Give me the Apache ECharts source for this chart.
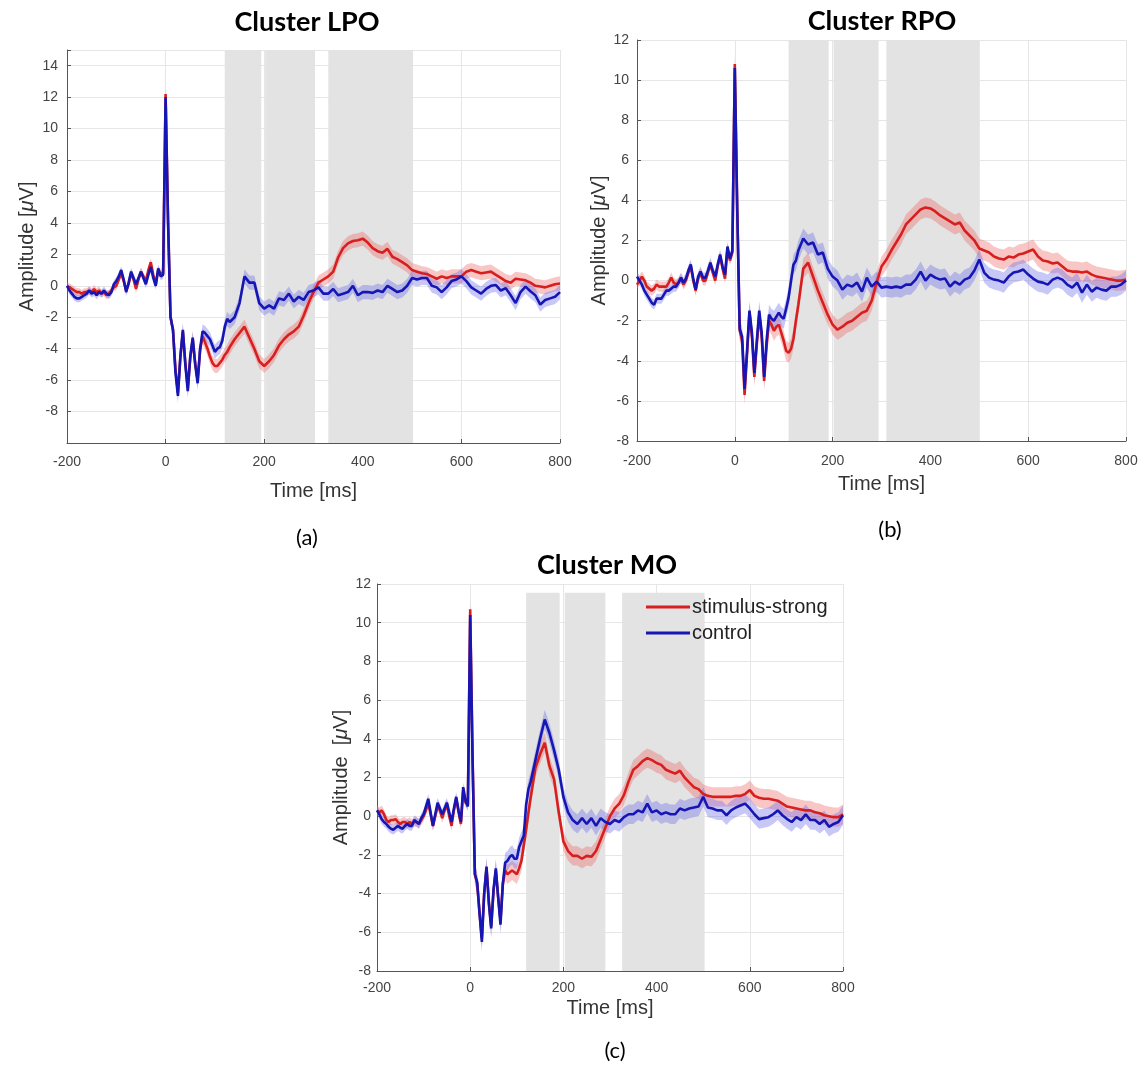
<!DOCTYPE html>
<html><head><meta charset="utf-8">
<script src="https://cdn.jsdelivr.net/npm/echarts/dist/echarts.min.js"></script>
<style>html,body{margin:0;padding:0;background:#fff}#c{width:1144px;height:1065px}</style>
</head><body><div id="c"></div>
<script>
// time samples (ms)
const T = [
-200,-195,-190,-185,-180,-175,-170,-165,-160,-155,
-150,-145,-140,-135,-130,-125,-120,-115,-110,-105,
-100,-95,-90,-85,-80,-75,-70,-65,-60,-55,
-50,-45,-40,-35,-30,-25,-20,-15,-10,-5,
0,5,10,15,20,25,30,35,40,45,
50,55,60,65,70,75,80,85,90,95,
100,105,110,115,120,125,130,
140,150,160,170,180,190,200,210,220,230,
240,250,260,270,280,290,300,310,320,330,
340,350,360,370,380,390,400,410,420,430,
440,450,460,470,480,490,500,510,520,530,
540,550,560,570,580,590,600,610,620,630,
640,650,660,670,680,690,700,710,720,730,
740,750,760,770,780,790,800];

// Cluster LPO
const lpoControl = [
0.0,-0.3,-0.5,-0.7,-0.8,-0.8,-0.7,-0.6,-0.5,-0.3,
-0.5,-0.4,-0.6,-0.4,-0.5,-0.3,-0.5,-0.6,-0.4,0.1,
0.3,0.6,1.0,0.4,-0.4,0.2,0.9,0.5,0.1,0.5,
0.9,0.5,0.1,0.7,1.2,0.5,0.0,1.1,0.6,0.7,
12.0,4.0,-2.0,-2.8,-5.5,-7.0,-4.5,-2.8,-5.0,-6.7,
-4.5,-3.3,-5.0,-6.2,-4.0,-2.9,-3.0,-3.2,-3.4,-3.8,
-4.2,-4.0,-3.9,-3.5,-2.6,-2.1,-2.3,
-2.0,-1.1,0.6,0.2,0.2,-1.1,-1.45,-1.25,-1.45,-0.8,
-0.9,-0.5,-1.0,-0.7,-0.9,-0.4,-0.3,-0.1,-0.5,-0.5,
-0.2,-0.6,-0.5,-0.4,0.0,-0.6,-0.4,-0.4,-0.45,-0.3,
-0.4,0.0,-0.2,-0.4,-0.3,0.0,0.5,0.4,0.5,0.5,
0.0,-0.1,-0.4,-0.1,0.3,0.4,0.6,0.3,-0.1,-0.3,
-0.5,-0.2,0.0,0.05,-0.3,-0.15,-0.6,-1.1,-0.4,-0.05,
-0.35,-0.6,-1.2,-0.9,-0.8,-0.7,-0.4];
const lpoStrong = [
0.0,-0.1,-0.2,-0.3,-0.4,-0.4,-0.5,-0.4,-0.4,-0.3,
-0.4,-0.2,-0.4,-0.3,-0.5,-0.4,-0.6,-0.5,-0.3,-0.1,
0.0,0.4,0.8,0.3,-0.3,0.1,0.8,0.4,-0.2,0.4,
0.9,0.6,0.3,1.0,1.5,0.7,0.1,1.0,0.8,0.8,
12.2,4.2,-2.0,-2.8,-5.3,-6.8,-4.5,-2.9,-4.9,-6.5,
-4.6,-3.4,-4.9,-6.0,-4.1,-3.2,-3.6,-4.0,-4.5,-4.9,
-5.1,-5.1,-4.9,-4.7,-4.4,-4.2,-3.9,
-3.4,-3.0,-2.6,-3.3,-4.0,-4.8,-5.1,-4.8,-4.4,-3.8,
-3.4,-3.1,-2.9,-2.6,-1.9,-1.1,-0.4,0.2,0.4,0.6,
0.9,1.8,2.4,2.7,2.85,2.9,3.0,2.75,2.4,2.2,
2.1,2.35,1.85,1.7,1.5,1.3,1.0,0.9,0.8,0.75,
0.6,0.45,0.6,0.5,0.6,0.6,0.6,0.9,1.0,0.9,
0.8,0.85,0.9,0.7,0.5,0.3,0.2,0.45,0.4,0.35,
0.2,0.0,-0.05,-0.1,0.0,0.1,0.15];

// Cluster RPO
const rpoControl = [
0.2,0.0,-0.2,-0.5,-0.7,-0.9,-1.1,-1.2,-0.9,-0.9,
-0.9,-0.7,-0.5,-0.5,-0.4,-0.3,-0.3,-0.1,0.15,-0.1,
0.1,0.5,0.8,0.1,-0.45,0.2,0.45,0.15,0.15,0.5,
0.9,0.5,0.2,0.8,1.3,0.7,0.3,1.7,1.1,1.5,
10.6,3.5,-2.4,-2.8,-5.4,-3.5,-1.5,-2.6,-4.6,-3.0,
-1.5,-2.6,-4.8,-3.0,-1.7,-1.9,-2.0,-1.8,-1.6,-1.8,
-1.9,-1.4,-0.85,0.0,0.8,1.0,1.5,
2.1,1.8,1.9,1.3,1.4,0.6,0.2,0.0,-0.45,-0.2,
-0.3,-0.1,-0.55,0.15,-0.3,-0.05,-0.35,-0.3,-0.35,-0.3,
-0.35,-0.2,-0.2,0.05,0.45,0.0,0.3,0.15,0.05,0.1,
-0.3,-0.05,-0.2,0.05,0.15,0.5,1.05,0.4,0.15,0.05,
0.0,-0.1,0.2,0.4,0.45,0.55,0.3,0.1,-0.05,-0.1,
-0.2,0.05,0.15,0.05,-0.2,-0.35,-0.1,-0.6,-0.2,-0.55,
-0.35,-0.45,-0.5,-0.3,-0.3,-0.2,0.0];
const rpoStrong = [
-0.2,0.0,0.2,0.0,-0.3,-0.4,-0.5,-0.4,-0.2,-0.3,
-0.3,-0.3,-0.3,-0.1,0.15,-0.1,-0.2,-0.1,0.1,-0.2,
0.0,0.4,0.7,0.0,-0.5,0.1,0.4,0.0,0.0,0.4,
0.8,0.4,0.0,0.7,1.2,0.6,0.1,1.6,1.0,1.4,
10.8,3.6,-2.5,-3.0,-5.7,-3.7,-1.6,-2.8,-4.8,-3.2,
-1.7,-2.8,-5.0,-3.3,-2.0,-2.2,-2.5,-2.3,-2.2,-2.6,
-3.0,-3.5,-3.6,-3.4,-2.9,-2.0,-1.2,
0.6,0.9,0.2,-0.5,-1.1,-1.7,-2.2,-2.45,-2.3,-2.1,
-2.0,-1.8,-1.6,-1.5,-1.0,-0.1,0.7,1.05,1.5,1.9,
2.3,2.8,3.05,3.3,3.55,3.65,3.6,3.45,3.25,3.1,
2.95,2.8,2.9,2.5,2.25,2.0,1.6,1.5,1.4,1.2,
1.1,1.05,1.2,1.15,1.3,1.35,1.45,1.55,1.2,1.0,
0.95,0.85,0.9,0.7,0.5,0.45,0.45,0.4,0.45,0.3,
0.2,0.15,0.1,0.05,0.0,0.0,0.05];

// Cluster MO
const moControl = [
0.3,0.1,-0.15,-0.3,-0.4,-0.55,-0.65,-0.7,-0.6,-0.5,
-0.6,-0.65,-0.5,-0.4,-0.5,-0.5,-0.2,-0.3,-0.4,-0.1,
0.1,0.5,0.9,0.2,-0.5,0.1,0.7,0.4,0.1,0.4,
0.7,0.2,-0.3,0.4,1.0,0.3,-0.3,1.5,0.8,0.5,
10.4,3.0,-3.0,-3.4,-5.0,-6.5,-4.0,-2.6,-4.5,-5.8,
-3.8,-2.7,-4.2,-5.6,-3.5,-2.4,-2.3,-2.1,-2.0,-2.2,
-2.2,-1.6,-1.3,-1.0,0.6,1.4,1.8,
2.9,4.0,5.0,4.3,3.4,2.4,1.0,0.2,-0.2,-0.4,
-0.1,-0.4,-0.1,-0.5,-0.1,-0.3,-0.4,-0.2,-0.3,-0.05,
0.1,0.1,0.3,0.2,0.65,0.2,0.3,0.1,0.2,0.1,
0.1,0.4,0.3,0.4,0.45,0.5,1.0,0.45,0.4,0.3,
0.3,0.05,0.3,0.45,0.55,0.65,0.4,0.1,-0.15,-0.1,
-0.05,0.1,0.3,0.05,-0.15,-0.3,-0.05,-0.2,0.1,-0.2,
-0.2,-0.4,-0.2,-0.55,-0.4,-0.3,0.05];
const moStrong = [
0.3,0.2,0.3,0.1,-0.2,-0.3,-0.2,-0.2,-0.15,-0.3,
-0.4,-0.3,-0.3,-0.4,-0.3,-0.4,-0.3,-0.3,-0.4,-0.2,
0.0,0.3,0.7,0.1,-0.5,0.0,0.5,0.3,-0.1,0.3,
0.6,0.0,-0.5,0.3,0.9,0.2,-0.4,1.3,0.7,0.6,
10.7,3.2,-3.0,-3.5,-5.0,-6.3,-4.0,-2.7,-4.4,-5.7,
-3.9,-2.8,-4.2,-5.4,-3.5,-2.8,-3.0,-2.9,-2.8,-2.9,
-3.0,-2.7,-2.3,-1.5,-0.7,0.2,1.0,
2.5,3.2,3.8,2.6,1.9,0.2,-1.3,-1.8,-2.05,-2.05,
-2.2,-2.05,-2.1,-1.8,-1.2,-0.6,0.0,0.4,0.65,1.1,
1.8,2.4,2.6,2.85,3.0,2.9,2.75,2.65,2.4,2.3,
2.2,2.35,2.0,1.75,1.5,1.4,1.15,1.05,1.0,1.0,
1.0,1.0,1.0,1.05,1.05,1.15,1.35,1.05,0.95,0.9,
0.9,0.85,0.8,0.65,0.5,0.45,0.4,0.35,0.3,0.3,
0.2,0.15,0.05,0.0,-0.05,-0.05,0.1];

// standard error half-widths [pre-stimulus, post-stimulus]
const semLpo = [0.25, 0.45];
const semRpo = [0.25, 0.5];
const semMo  = [0.25, 0.5];

// significant time windows (ms)
const shadeLpo = [[120,194],[202,303],[330,502]];
const shadeRpo = [[110,192],[202,294],[310,501]];
const shadeMo  = [[120,192],[203,290],[326,503]];

const xTicks = [-200, 800, 200];          // min, max, step
const yLpo = [-10, 15, 2];
const yRpo = [-8, 12, 2];
const yMo  = [-8, 12, 2];

const titles = ['Cluster LPO', 'Cluster RPO', 'Cluster MO'];
const captions = ['(a)', '(b)', '(c)'];
const legendNames = ['stimulus-strong', 'control'];

[lpoControl,lpoStrong,rpoControl,rpoStrong,moControl,moStrong].forEach((a,i)=>{
  if (a.length !== T.length) throw new Error('length mismatch in series ' + i + ': ' + a.length);
});

// ---------- styling / layout ----------
const SANS = '"Liberation Sans", Arial, sans-serif';
const CAL = 'Lato, "Open Sans", sans-serif';
const RED = '#d71f1f', BLUE = '#1616b4';
const RED_BAND = 'rgba(240,105,105,0.38)', BLUE_BAND = 'rgba(110,110,235,0.38)';
const SHADE = '#e3e3e3';

const grids = [
  {left: 67, top: 50, width: 493, height: 393},
  {left: 637, top: 40, width: 489, height: 401},
  {left: 377, top: 584, width: 466, height: 387}
];
const yRanges = [yLpo, yRpo, yMo];
const shades = [shadeLpo, shadeRpo, shadeMo];
const shadeTop = [15, 12, 11.55];
const sems = [semLpo, semRpo, semMo];
const reds = [lpoStrong, rpoStrong, moStrong];
const blues = [lpoControl, rpoControl, moControl];
const yNameGap = [30, 25, 24];
const xNameGap = [38, 33, 27];
const xLabMargin = [12, 13, 10];
const yLabMargin = [9, 8, 6];
const yNames = ['Amplitude [{i|\u03bc}V]', 'Amplitude [{i|\u03bc}V]', 'Amplitude  [{i|\u03bc}V]'];

function band(gi, vals, sem, color) {
  return {
    type: 'custom', xAxisIndex: gi, yAxisIndex: gi, silent: true, animation: false,
    data: T.map((t, i) => [t, vals[i]]),
    encode: {x: 0, y: 1},
    renderItem(params, api) {
      if (params.dataIndex !== 0) return null;
      const up = [], lo = [];
      for (let i = 0; i < T.length; i++) {
        const s = T[i] < 0 ? sem[0] : sem[1];
        up.push(api.coord([T[i], vals[i] + s]));
        lo.push(api.coord([T[i], vals[i] - s]));
      }
      return {type: 'polygon', shape: {points: up.concat(lo.reverse())}, style: {fill: color}};
    }
  };
}
function line(gi, vals, color, name, withShade) {
  const s = {
    type: 'line', name: name, xAxisIndex: gi, yAxisIndex: gi,
    data: T.map((t, i) => [t, vals[i]]),
    symbol: 'none', showSymbol: false, animation: false, silent: true,
    lineStyle: {color: color, width: 2.6}, itemStyle: {color: color}
  };
  if (withShade) {
    const lo = yRanges[gi][0];
    s.markArea = {
      silent: true, itemStyle: {color: SHADE, opacity: 1},
      data: shades[gi].map(w => [{xAxis: w[0], yAxis: lo}, {xAxis: w[1], yAxis: shadeTop[gi]}])
    };
  }
  return s;
}

const xAxes = [], yAxes = [], series = [];
for (let g = 0; g < 3; g++) {
  xAxes.push({
    gridIndex: g, type: 'value', min: xTicks[0], max: xTicks[1], interval: xTicks[2],
    name: 'Time [ms]', nameLocation: 'middle', nameGap: xNameGap[g],
    nameTextStyle: {fontFamily: SANS, fontSize: 20, color: '#333'},
    axisLine: {show: true, onZero: false, lineStyle: {color: '#555', width: 1}},
    axisTick: {show: true, inside: true, length: 4, lineStyle: {color: '#555'}},
    axisLabel: {fontFamily: SANS, fontSize: 14, color: '#444', margin: xLabMargin[g]},
    splitLine: {show: true, lineStyle: {color: '#e6e6e6', width: 1}}
  });
  const yr = yRanges[g];
  yAxes.push({
    gridIndex: g, type: 'value', min: yr[0], max: yr[1], interval: yr[2],
    name: yNames[g], nameLocation: 'middle', nameGap: yNameGap[g],
    nameTextStyle: {fontFamily: SANS, fontSize: 20, color: '#333',
      rich: {i: {fontFamily: SANS, fontSize: 20, color: '#333', fontStyle: 'italic'}}},
    axisLine: {show: true, onZero: false, lineStyle: {color: '#555', width: 1}},
    axisTick: {show: true, inside: true, length: 4, lineStyle: {color: '#555'}},
    axisLabel: {fontFamily: SANS, fontSize: 14, color: '#444', margin: yLabMargin[g],
      formatter: v => (g === 0 && (v === -10 || v === 15)) ? '' : String(v)},
    splitLine: {show: true, lineStyle: {color: '#e6e6e6', width: 1}}
  });
  const nm = g === 2 ? legendNames : ['strong_' + g, 'control_' + g];
  series.push(line(g, reds[g], 'rgba(0,0,0,0)', 'shade_' + g, true));
  series.push(band(g, reds[g], sems[g], RED_BAND));
  series.push(line(g, reds[g], RED, nm[0], false));
  series.push(band(g, blues[g], sems[g], BLUE_BAND));
  series.push(line(g, blues[g], BLUE, nm[1], false));
}

function txt(s, x, y, font) {
  return {type: 'text', x: x, y: y, silent: true,
    style: {text: s, font: font, fill: '#000', textAlign: 'center', textVerticalAlign: 'middle',
      align: 'center', verticalAlign: 'middle'}};
}

const chart = echarts.init(document.getElementById('c'), null, {renderer: 'canvas'});
chart.setOption({
  animation: false,
  backgroundColor: '#fff',
  grid: grids.map(g => Object.assign({containLabel: false}, g)),
  xAxis: xAxes, yAxis: yAxes,
  legend: {
    data: legendNames.map(n => ({name: n, icon: 'rect'})), orient: 'vertical', left: 641, top: 592,
    itemWidth: 44, itemHeight: 3, itemGap: 6, selectedMode: false,
    textStyle: {fontFamily: SANS, fontSize: 20, color: '#222', padding: [0, 0, 0, -3]},
    backgroundColor: 'rgba(0,0,0,0)'
  },
  graphic: [
    txt(titles[0], 307, 22, 'bold 27px ' + CAL),
    txt(titles[1], 882, 21, 'bold 27px ' + CAL),
    txt(titles[2], 607, 565, 'bold 27px ' + CAL),
    txt(captions[0], 307, 538, '22px ' + CAL),
    txt(captions[1], 890, 530, '22px ' + CAL),
    txt(captions[2], 615, 1051, '22px ' + CAL)
  ],
  series: series
});
</script>
</body></html>
